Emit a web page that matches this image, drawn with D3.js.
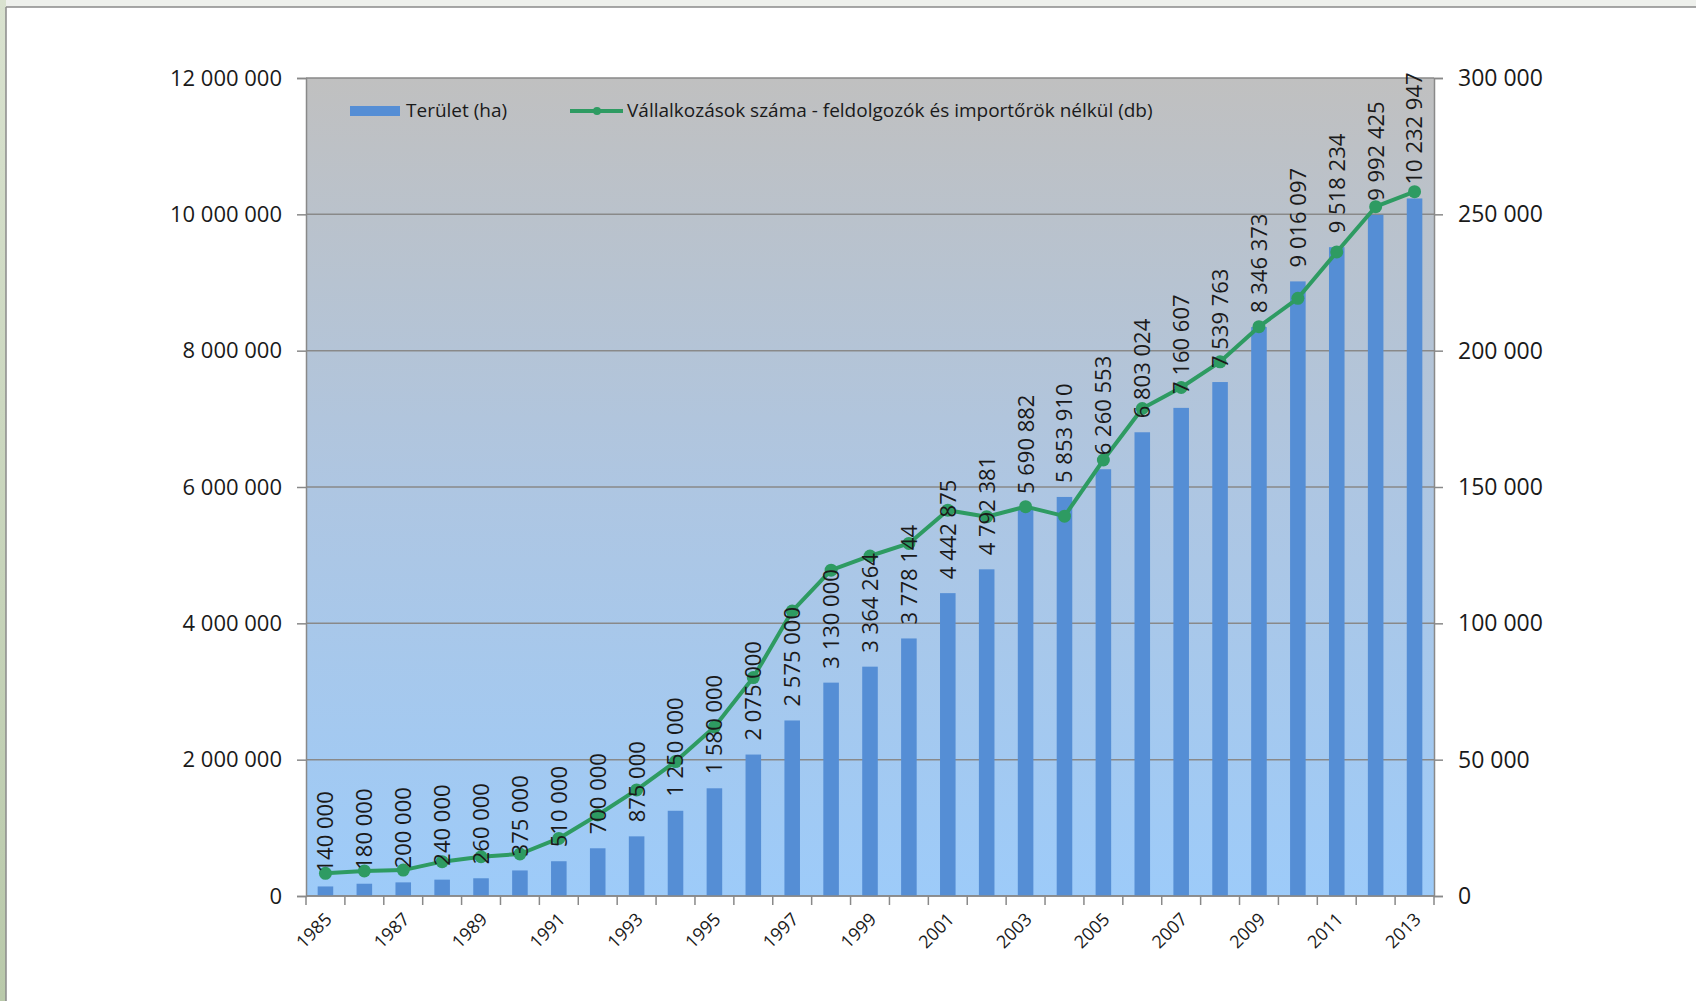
<!DOCTYPE html>
<html>
<head>
<meta charset="utf-8">
<script src="https://cdn.jsdelivr.net/npm/d3@7"></script>
<style>
  html, body { margin: 0; padding: 0; background: #fff; }
  svg { display: block; }
  text { font-family: "Open Sans", "DejaVu Sans", sans-serif; fill: #1a1a1a; }
</style>
</head>
<body>
<svg id="chart" width="1696" height="1001"></svg>
<script>
// Years on the category axis
const years = d3.range(1985, 2014).map(String);

// Terület (ha) – bar values, as written on the data labels
const area = [140000, 180000, 200000, 240000, 260000, 375000, 510000, 700000, 875000,
  1250000, 1580000, 2075000, 2575000, 3130000, 3364264, 3778144, 4442875, 4792381,
  5690882, 5853910, 6260553, 6803024, 7160607, 7539763, 8346373, 9016097, 9518234,
  9992425, 10232947];

// Vállalkozások száma (db)
const firms = [8300, 9200, 9500, 12600, 14400, 15400, 21100, 29700, 38900, 49300, 62000,
  80100, 104500, 119500, 124700, 129300, 141500, 139100, 142800, 139300, 159900,
  178800, 186500, 195900, 208800, 219200, 236200, 252800, 258300];

const leftTicks = [0, 2000000, 4000000, 6000000, 8000000, 10000000, 12000000];
const rightTicks = [0, 50000, 100000, 150000, 200000, 250000, 300000];
const legendLabels = ['Terület (ha)', 'Vállalkozások száma - feldolgozók és importőrök nélkül (db)'];

const fmt = v => d3.format(',')(v).replace(/,/g, ' ');

const svg = d3.select('#chart');
const plot = { left: 306, right: 1434, top: 78, bottom: 896 };

// page frame (slide edge)
const frame = svg.append('defs');
const leaf = frame.append('linearGradient').attr('id', 'leaf').attr('x1', 0).attr('x2', 0).attr('y1', 0).attr('y2', 1);
leaf.append('stop').attr('offset', 0).attr('stop-color', '#d9e2cf');
leaf.append('stop').attr('offset', 1).attr('stop-color', '#b9c9aa');
svg.append('rect').attr('x', 0).attr('y', 0).attr('width', 1696).attr('height', 7).attr('fill', '#eef0ec');
svg.append('rect').attr('x', 0).attr('y', 0).attr('width', 6).attr('height', 1001).attr('fill', 'url(#leaf)');
svg.append('line').attr('x1', 6).attr('x2', 1696).attr('y1', 7).attr('y2', 7).attr('stroke', '#8a8a8a').attr('stroke-width', 1.5);
svg.append('line').attr('x1', 6).attr('x2', 6).attr('y1', 7).attr('y2', 1001).attr('stroke', '#8a8a8a').attr('stroke-width', 1.5);

// plot background gradient: grey at the top, light blue at the bottom
const bg = frame.append('linearGradient').attr('id', 'bg').attr('x1', 0).attr('x2', 0).attr('y1', 0).attr('y2', 1);
bg.append('stop').attr('offset', 0).attr('stop-color', '#c0c0c0');
bg.append('stop').attr('offset', 0.5).attr('stop-color', '#aec6e2');
bg.append('stop').attr('offset', 1).attr('stop-color', '#9dcbf9');

const x = d3.scaleBand().domain(years).range([plot.left, plot.right]).paddingInner(0.6).paddingOuter(0.3);
const xBand = d3.scaleBand().domain(years).range([plot.left, plot.right]);
const yL = d3.scaleLinear().domain([0, 12000000]).range([plot.bottom, plot.top]);
const yR = d3.scaleLinear().domain([0, 300000]).range([plot.bottom, plot.top]);

svg.append('rect')
  .attr('x', plot.left).attr('y', plot.top)
  .attr('width', plot.right - plot.left).attr('height', plot.bottom - plot.top)
  .attr('fill', 'url(#bg)');

// gridlines
svg.append('g')
  .selectAll('line')
  .data(leftTicks)
  .enter()
  .append('line')
  .attr('x1', plot.left).attr('x2', plot.right)
  .attr('y1', d => yL(d)).attr('y2', d => yL(d))
  .attr('stroke', '#898989').attr('stroke-width', 1.5);

// left axis
const axL = svg.append('g')
  .attr('transform', `translate(${plot.left},0)`)
  .call(d3.axisLeft(yL).tickValues(leftTicks).tickFormat(fmt).tickSize(9).tickPadding(15));
// right axis
const axR = svg.append('g')
  .attr('transform', `translate(${plot.right},0)`)
  .call(d3.axisRight(yR).tickValues(rightTicks).tickFormat(fmt).tickSize(9).tickPadding(15));
[axL, axR].forEach(a => {
  a.select('.domain').attr('stroke', '#898989').attr('stroke-width', 1.5);
  a.selectAll('.tick line').attr('stroke', '#898989').attr('stroke-width', 1.5);
  a.selectAll('.tick text').style('font-size', '22px').attr('fill', '#1a1a1a');
});
axR.selectAll('.tick text').style('font-size', '23px');

// bars
svg.append('g')
  .selectAll('rect')
  .data(area)
  .enter()
  .append('rect')
  .attr('x', (d, i) => x(years[i]))
  .attr('width', x.bandwidth())
  .attr('y', d => yL(d))
  .attr('height', d => plot.bottom - yL(d))
  .attr('fill', '#558ed5');

// bottom axis: ticks on category boundaries, labels every other year
const xAxisG = svg.append('g').attr('transform', `translate(0,${plot.bottom})`);
xAxisG.append('line')
  .attr('x1', plot.left).attr('x2', plot.right)
  .attr('stroke', '#898989').attr('stroke-width', 1.5);
xAxisG.selectAll('line.tk')
  .data(years.concat(['end']))
  .enter()
  .append('line')
  .attr('class', 'tk')
  .attr('x1', (d, i) => i < years.length ? xBand(d) : plot.right)
  .attr('x2', (d, i) => i < years.length ? xBand(d) : plot.right)
  .attr('y1', 0).attr('y2', 9)
  .attr('stroke', '#898989').attr('stroke-width', 1.5);
xAxisG.selectAll('text')
  .data(years.filter((d, i) => i % 2 === 0))
  .enter()
  .append('text')
  .attr('transform', d => `translate(${xBand(d) + xBand.bandwidth() / 2 + 3},${20}) rotate(-45)`)
  .attr('text-anchor', 'end')
  .attr('dy', '0.35em')
  .style('font-size', '18px')
  .text(d => d);

// line series
const line = d3.line()
  .x((d, i) => xBand(years[i]) + xBand.bandwidth() / 2)
  .y(d => yR(d));
svg.append('path')
  .datum(firms)
  .attr('d', line)
  .attr('fill', 'none')
  .attr('stroke', '#2e9b62')
  .attr('stroke-width', 4)
  .attr('stroke-linejoin', 'round');
svg.append('g')
  .selectAll('circle')
  .data(firms)
  .enter()
  .append('circle')
  .attr('cx', (d, i) => xBand(years[i]) + xBand.bandwidth() / 2)
  .attr('cy', d => yR(d))
  .attr('r', 6.5)
  .attr('fill', '#2e9b62');

// data labels above each bar, rotated
svg.append('g')
  .selectAll('text')
  .data(area)
  .enter()
  .append('text')
  .attr('transform', (d, i) => `translate(${x(years[i]) + x.bandwidth() / 2},${yL(d) - 14}) rotate(-90)`)
  .attr('dy', '0.36em')
  .style('font-size', '22px')
  .attr('fill', '#000')
  .text(d => fmt(d));

// legend
const lg = svg.append('g');
lg.append('rect').attr('x', 350).attr('y', 106).attr('width', 50).attr('height', 10).attr('fill', '#558ed5');
lg.append('text').attr('x', 406).attr('y', 117).style('font-size', '19px').text(legendLabels[0]);
lg.append('line').attr('x1', 570).attr('x2', 623).attr('y1', 111).attr('y2', 111)
  .attr('stroke', '#2e9b62').attr('stroke-width', 4);
lg.append('circle').attr('cx', 597).attr('cy', 111).attr('r', 4).attr('fill', '#2e9b62');
lg.append('text').attr('x', 627).attr('y', 117).style('font-size', '19px').text(legendLabels[1]);
</script>
</body>
</html>
